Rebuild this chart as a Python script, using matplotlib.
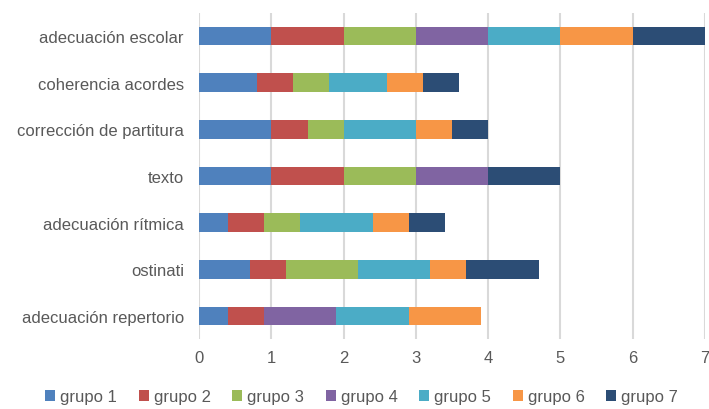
import matplotlib
matplotlib.use("Agg")
import matplotlib.pyplot as plt
import numpy as np

categories = ["adecuación repertorio", "ostinati", "adecuación rítmica", "texto",
              "corrección de partitura", "coherencia acordes", "adecuación escolar"]
series_names = ["grupo 1", "grupo 2", "grupo 3", "grupo 4", "grupo 5", "grupo 6", "grupo 7"]
grupo1 = [0.4, 0.7, 0.4, 1, 1, 0.8, 1]
grupo2 = [0.5, 0.5, 0.5, 1, 0.5, 0.5, 1]
grupo3 = [0, 1, 0.5, 1, 0.5, 0.5, 1]
grupo4 = [1, 0, 0, 1, 0, 0, 1]
grupo5 = [1, 1, 1, 0, 1, 0.8, 1]
grupo6 = [1, 0.5, 0.5, 0, 0.5, 0.5, 1]
grupo7 = [0, 1, 0.5, 1, 0.5, 0.5, 1]
xticks = [0, 1, 2, 3, 4, 5, 6, 7]

colors = ["#4F81BD", "#C0504D", "#9BBB59", "#8064A2", "#4BACC6", "#F79646", "#2C4D75"]
series = [grupo1, grupo2, grupo3, grupo4, grupo5, grupo6, grupo7]

plt.rcParams['font.family'] = ['Liberation Sans', 'DejaVu Sans']
fig = plt.figure(figsize=(7.09, 4.10), dpi=100)
ax = fig.add_axes([0.281, 0.17, 0.713, 0.797])

y = np.arange(len(categories))
left = np.zeros(len(categories))
for name, vals, c in zip(series_names, series, colors):
    vals = np.array(vals, dtype=float)
    ax.barh(y, vals, left=left, height=0.4, color=c, label=name, zorder=3)
    left += vals

ax.set_xlim(0, 7)
ax.set_ylim(-0.5, len(categories) - 0.5)
ax.set_xticks(xticks)
ax.set_yticks(y)
ax.set_yticklabels(categories)
ax.grid(axis='x', color='#D9D9D9', linewidth=1.5, zorder=0)
for s in ax.spines.values():
    s.set_visible(False)
ax.tick_params(length=0, labelsize=12, colors='#595959')
ax.tick_params(axis='y', pad=11)
ax.tick_params(axis='x', pad=8)

fig.legend(loc='lower center', ncol=7, bbox_to_anchor=(0.51, -0.025), frameon=False,
           fontsize=12, labelcolor='#595959', handlelength=0.6, handleheight=0.7,
           handletextpad=0.3, columnspacing=1.3)

fig.savefig("out.png", dpi=100)
